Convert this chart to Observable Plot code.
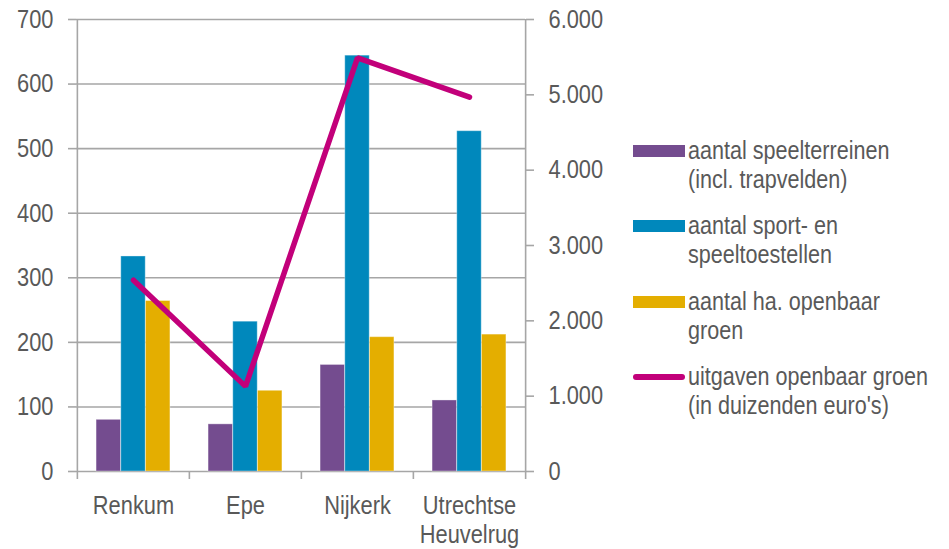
<!DOCTYPE html>
<html><head><meta charset="utf-8">
<script src="https://cdn.jsdelivr.net/npm/d3@7"></script>
<script src="https://cdn.jsdelivr.net/npm/@observablehq/plot@0.6"></script>
<style>
body{margin:0;background:#fff;}
#wrap{position:relative;width:949px;height:549px;overflow:hidden;}
.item{position:absolute;left:633px;width:316px;}
.sw{position:absolute;left:0;width:52px;}
.txt{position:absolute;left:55px;white-space:nowrap;color:#595959;line-height:29px;transform-origin:0 0;}
</style></head><body><div id="wrap"></div><script>
// ---- data ----
const categories = ["Renkum", "Epe", "Nijkerk", "Utrechtse\nHeuvelrug"];
const series = ["aantal speelterreinen (incl. trapvelden)", "aantal sport- en speeltoestellen", "aantal ha. openbaar groen"];
const speelterreinen = [80, 73, 165, 110];
const toestellen = [333, 232, 644, 527];
const hectareGroen = [264, 125, 208, 212];
const lineName = "uitgaven openbaar groen (in duizenden euro's)";
const uitgaven = [2540, 1130, 5490, 4970];
const leftTicks = [0, 100, 200, 300, 400, 500, 600, 700];
const rightTicks = [0, 1000, 2000, 3000, 4000, 5000, 6000];
const legendLines = [
  ["aantal speelterreinen", "(incl. trapvelden)"],
  ["aantal sport- en", "speeltoestellen"],
  ["aantal ha. openbaar", "groen"],
  ["uitgaven openbaar groen", "(in duizenden euro's)"]
];
const barColors = ["#744C8F", "#0088BC", "#E4AE00"];
const lineColor = "#C2007A";

// ---- font (narrow look: Liberation Sans compressed horizontally) ----
const FONT = '"Liberation Sans", Arial, sans-serif';
const FS = 26;
const SX = 0.84;

// ---- tables ----
const valuesBySeries = [speelterreinen, toestellen, hectareGroen];
const rows = series.flatMap((s, j) => categories.map((c, i) => ({cat: c, serie: s, value: valuesBySeries[j][i]})));
const k = 700 / 6000; // right axis -> left axis
const lineRows = categories.map((c, i) => ({cat: c, value: uitgaven[i]}));
const fmt = d3.formatLocale({thousands: ".", decimal: ",", grouping: [3], currency: ["", ""]}).format(",");

const W = 949, H = 549, ML = 76, MR = 424, MT = 19, MB = 78;
const bw = (W - ML - MR) / categories.length;
const barW = 24.7;
const inset = (bw - barW) / 2;
const grey = "#a6a6a6";

const chart = Plot.plot({
  width: W, height: H,
  marginLeft: ML, marginRight: MR, marginTop: MT, marginBottom: MB,
  style: {fontFamily: FONT, fontSize: FS + "px", color: "#595959", background: "white", overflow: "visible"},
  x: {domain: categories, padding: 0, label: null},
  y: {domain: [0, 700], label: null},
  color: {domain: series, range: barColors},
  marks: [
    Plot.gridY({ticks: leftTicks, stroke: grey, strokeOpacity: 1, strokeWidth: 1.6}),
    Plot.gridX({ticks: [categories[0]], dx: -bw / 2, stroke: grey, strokeOpacity: 1, strokeWidth: 1.6}),
    Plot.gridX({ticks: [categories[categories.length - 1]], dx: bw / 2, stroke: grey, strokeOpacity: 1, strokeWidth: 1.6}),
    Plot.axisY({ticks: leftTicks, tickSize: 8, tickPadding: 15, stroke: grey, strokeWidth: 1.6, label: null}),
    Plot.axisY({anchor: "right", ticks: rightTicks.map(v => v * k), tickFormat: v => fmt(Math.round(v / k)), tickSize: 8, tickPadding: 15, stroke: grey, strokeWidth: 1.6, label: null}),
    Plot.axisX({tickSize: 0, tickPadding: 23, lineHeight: 1.08, label: null}),
    Plot.axisX({tickSize: 8, dx: -bw / 2, tickFormat: () => "", stroke: grey, strokeWidth: 1.6, label: null}),
    Plot.axisX({ticks: [categories[categories.length - 1]], tickSize: 8, dx: bw / 2, tickFormat: () => "", stroke: grey, strokeWidth: 1.6, label: null}),
    ...series.map((s, j) => Plot.barY(rows.filter(r => r.serie === s), {
      x: "cat", y: "value", fill: "serie", insetLeft: inset, insetRight: inset, dx: (j - 1) * barW,
      stroke: "white", strokeOpacity: 0.35, strokeWidth: 1
    })),
    Plot.line(lineRows, {x: "cat", y: d => d.value * k, stroke: lineColor, strokeWidth: 5.5, strokeLinecap: "round", strokeLinejoin: "miter"})
  ]
});
// compress axis text horizontally around its anchor
chart.querySelectorAll("text").forEach(t => {
  const tr = t.getAttribute("transform");
  if (tr) t.setAttribute("transform", tr + ` scale(${SX},1)`);
  else {
    const x = +t.getAttribute("x") || 0, y = +t.getAttribute("y") || 0;
    t.removeAttribute("x"); t.removeAttribute("y");
    t.setAttribute("transform", `translate(${x},${y}) scale(${SX},1)`);
  }
});
const wrap = document.getElementById("wrap");
wrap.appendChild(chart);

// ---- legend (HTML) ----
const tops = [135.5, 211, 286.5, 361.5];
legendLines.forEach((lines, i) => {
  const it = document.createElement("div");
  it.className = "item";
  it.style.top = tops[i] + "px";
  const sw = document.createElement("div");
  sw.className = "sw";
  if (i < 3) {
    sw.style.top = "9px"; sw.style.height = "12px"; sw.style.background = barColors[i];
  } else {
    sw.style.top = "12.5px"; sw.style.height = "5.5px"; sw.style.background = lineColor; sw.style.borderRadius = "3px";
  }
  const tx = document.createElement("div");
  tx.className = "txt";
  tx.style.fontFamily = FONT;
  tx.style.fontSize = "25.7px";
  tx.style.transform = `scaleX(${SX})`;
  tx.innerHTML = lines.map(l => l.replace(/&/g, "&amp;")).join("<br>");
  it.appendChild(sw); it.appendChild(tx);
  wrap.appendChild(it);
});
</script></body></html>
